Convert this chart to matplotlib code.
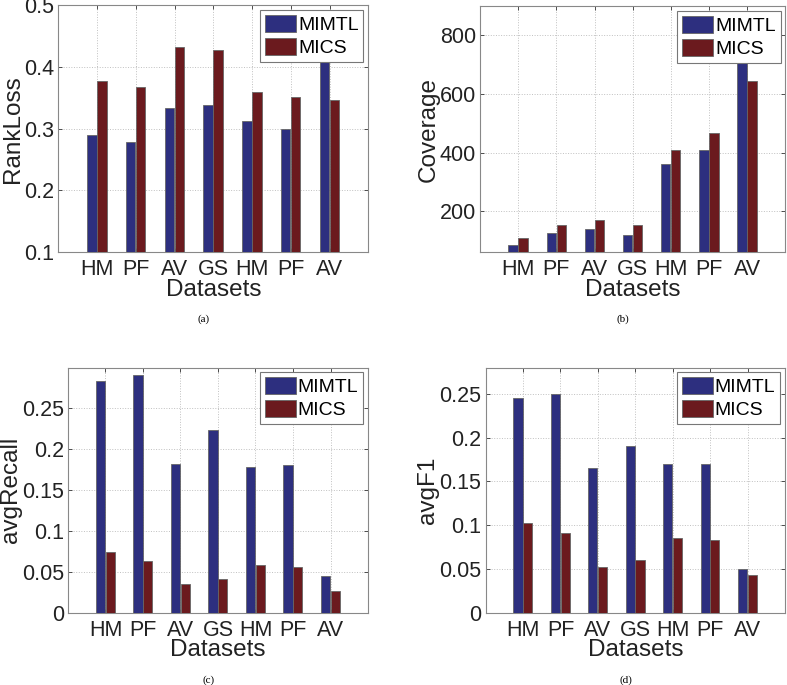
import numpy as np
import matplotlib.pyplot as plt

datasets = ['HM', 'PF', 'AV', 'GS', 'HM', 'PF', 'AV']

# (a) RankLoss
rankloss_mimtl = [0.290, 0.278, 0.334, 0.338, 0.313, 0.300, 0.45]
rankloss_mics = [0.378, 0.367, 0.432, 0.428, 0.360, 0.352, 0.347]

# (b) Coverage
coverage_mimtl = [84, 125, 139, 120, 362, 407, 760]
coverage_mics = [108, 152, 171, 151, 407, 466, 646]

# (c) avgRecall
recall_mimtl = [0.284, 0.291, 0.182, 0.224, 0.178, 0.1805, 0.0455]
recall_mics = [0.074, 0.0634, 0.0354, 0.0415, 0.059, 0.0557, 0.027]

# (d) avgF1
f1_mimtl = [0.245, 0.250, 0.1656, 0.1906, 0.1693, 0.170, 0.050]
f1_mics = [0.102, 0.091, 0.052, 0.060, 0.0857, 0.0826, 0.0432]

blue = '#2d2f7f'
red = '#6b1a1e'

plt.rcParams['font.family'] = ['Liberation Sans', 'DejaVu Sans']

fig = plt.figure(figsize=(7.87, 6.85), dpi=100)


def panel(rect, mimtl, mics, ylabel, ylim, yticks, yticklabels, caption):
    ax = fig.add_axes(rect)
    x = np.arange(1, len(datasets) + 1)
    w = 0.245
    ax.bar(x - 0.135, mimtl, w, color=blue, edgecolor='#666666', linewidth=0.6,
           label='MIMTL', zorder=3)
    ax.bar(x + 0.125, mics, w, color=red, edgecolor='#666666', linewidth=0.6,
           label='MICS', zorder=3)
    ax.set_xlim(0, 8)
    ax.set_ylim(*ylim)
    ax.set_xticks(x)
    ax.set_xticklabels(datasets)
    ax.set_yticks(yticks)
    ax.set_yticklabels(yticklabels)
    ax.tick_params(direction='in', length=3, width=0.6, labelsize=15.5,
                   top=True, right=True, colors='#333333', labelcolor='#222222')
    ax.tick_params(axis='x', pad=5)
    ax.tick_params(axis='y', pad=3)
    for s in ax.spines.values():
        s.set_color('#888888')
        s.set_linewidth(0.8)
    ax.grid(True, linestyle=':', color='#c0c0c0', linewidth=0.7, zorder=0)
    ax.set_xlabel('Datasets', fontsize=17.5, labelpad=-1, color='#222222')
    ax.set_ylabel(ylabel, fontsize=17.5, labelpad=0, color='#222222')
    leg = ax.legend(loc='upper right', fontsize=14, fancybox=False, framealpha=1,
                    edgecolor='#777777', handlelength=1.6, handleheight=0.95,
                    handletextpad=0.1, labelspacing=0.2, borderpad=0.25,
                    borderaxespad=0.25)
    leg.get_frame().set_linewidth(0.8)
    leg.set_zorder(5)
    bb = ax.get_position()
    fig.text(bb.x0 + bb.width / 2 - 0.012, bb.y0 - 0.098, caption,
             family='Liberation Serif', fontsize=8, ha='center', va='center')
    return ax


panel([0.074, 0.632, 0.394, 0.360], rankloss_mimtl, rankloss_mics, 'RankLoss',
      (0.1, 0.5), [0.1, 0.2, 0.3, 0.4, 0.5], ['0.1', '0.2', '0.3', '0.4', '0.5'], '(a)')
panel([0.610, 0.632, 0.388, 0.359], coverage_mimtl, coverage_mics, 'Coverage',
      (60, 900), [200, 400, 600, 800], ['200', '400', '600', '800'], '(b)')
panel([0.0864, 0.1055, 0.3812, 0.358], recall_mimtl, recall_mics, 'avgRecall',
      (0, 0.3), [0, 0.05, 0.1, 0.15, 0.2, 0.25],
      ['0', '0.05', '0.1', '0.15', '0.2', '0.25'], '(c)')
panel([0.617, 0.1055, 0.3805, 0.358], f1_mimtl, f1_mics, 'avgF1',
      (0, 0.28), [0, 0.05, 0.1, 0.15, 0.2, 0.25],
      ['0', '0.05', '0.1', '0.15', '0.2', '0.25'], '(d)')

fig.savefig('out.png', dpi=100)
